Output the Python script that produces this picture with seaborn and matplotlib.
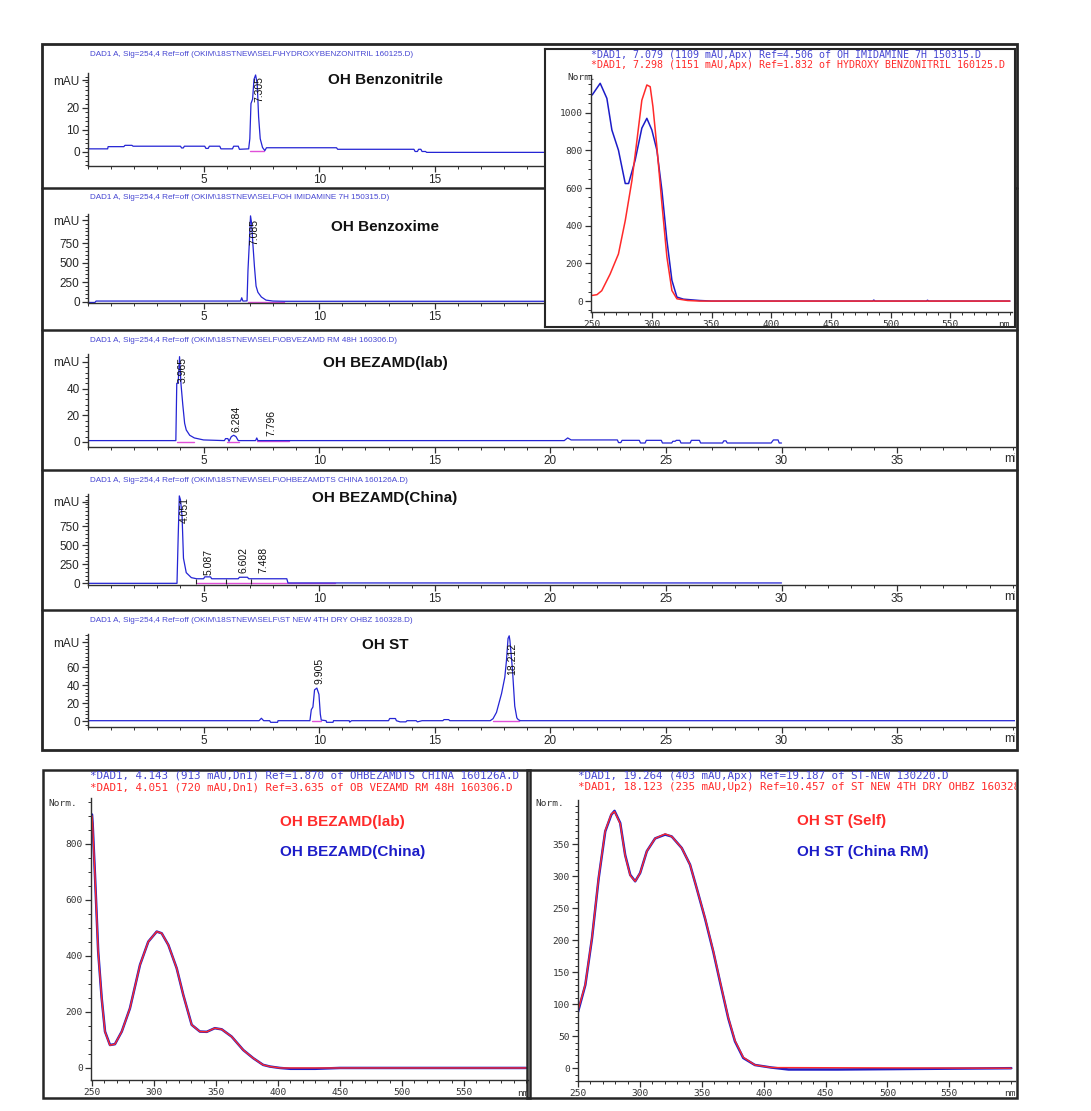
import matplotlib
matplotlib.use("Agg")
import matplotlib.pyplot as plt
import seaborn as sns
from matplotlib.patches import Rectangle
from matplotlib.lines import Line2D
from matplotlib.ticker import MultipleLocator
from matplotlib.transforms import Bbox, TransformedBbox

W, H = 1091, 1111

# ---------------- chromatograms: (time min, signal mAU) ----------------
benzonitrile_trace = [
    (0, 1.4), (0.85, 1.4), (0.87, 2.4), (1.55, 2.4), (1.6, 3.0), (1.9, 3.0), (1.95, 2.6),
    (4.0, 2.6), (4.05, 1.8), (4.12, 1.8), (4.17, 2.6), (5.05, 2.6), (5.1, 1.6), (5.2, 1.6),
    (5.25, 2.6), (5.7, 2.6), (5.75, 1.4), (6.25, 1.4), (6.3, 2.6), (6.5, 2.6), (6.55, 1.2),
    (6.95, 1.4), (7.0, 6), (7.05, 22), (7.12, 24), (7.18, 33), (7.25, 35), (7.32, 31),
    (7.38, 16), (7.45, 6), (7.55, 2.0), (7.65, 0.6), (7.72, 1.9), (10.75, 1.9), (10.8, 1.2),
    (14.1, 1.2), (14.15, 0.2), (14.25, 0.2), (14.3, 1.2), (14.4, 1.2), (14.45, 0.2),
    (14.6, 0.2), (14.65, -0.2), (20.0, -0.2),
]
benzonitrile_base = [[(7.0, 0.3), (7.62, 0.3)]]
benzonitrile_peaks = [(7.305, "7.305", 22.7)]

benzoxime_trace = [
    (0, -10), (0.3, -10), (0.35, 8), (6.6, 8), (6.65, 50), (6.7, 8), (6.75, 8), (6.88, 10),
    (6.92, 400), (6.97, 700), (7.03, 1100), (7.08, 1000), (7.13, 750), (7.2, 450), (7.27, 200),
    (7.35, 120), (7.5, 60), (7.7, 20), (8.0, 8), (8.5, 5), (20.0, 5),
]
benzoxime_base = [[(6.9, 2), (8.5, 2)]]
benzoxime_peaks = [(7.085, "7.085", 727)]

bezamd_lab_trace = [
    (0, 1), (3.8, 1), (3.84, 44), (3.9, 44), (3.96, 64), (4.02, 44), (4.1, 28), (4.18, 14),
    (4.25, 9), (4.4, 5), (4.6, 3), (5.0, 1.5), (5.9, 1), (5.95, 2.5), (6.05, 2.5), (6.1, 0.5),
    (6.2, 4), (6.3, 5), (6.4, 4), (6.5, 1), (7.25, 1), (7.3, 3), (7.35, 1), (20.6, 1),
    (20.75, 3), (20.9, 1.5), (22.9, 1.5), (22.95, -0.5), (23.05, -0.5), (23.1, 1.2),
    (23.85, 1.2), (23.9, -0.8), (24.1, -0.8), (24.15, 1.2), (24.8, 1.2), (24.85, -0.8),
    (25.25, -0.8), (25.3, 0.5), (25.4, 0.5), (25.45, 1.2), (25.6, 1.2), (25.65, -0.8),
    (26.05, -0.8), (26.1, 1.2), (26.45, 1.2), (26.5, -0.8), (27.45, -0.8), (27.5, 0.8),
    (27.6, 0.8), (27.65, -0.8), (29.55, -0.8), (29.65, 1.5), (29.85, 1.5), (29.9, -0.8),
    (30.0, -0.8),
]
bezamd_lab_base = [[(3.85, 0.3), (4.6, 0.3)], [(6.0, 0.3), (6.55, 0.3)], [(7.3, 0.6), (8.7, 0.6)]]
bezamd_lab_peaks = [(3.965, "3.965", 44), (6.284, "6.284", 7.5), (7.796, "7.796", 4.5)]

bezamd_china_trace = [
    (0, 0), (3.85, 0), (3.9, 600), (3.95, 1150), (4.0, 1100), (4.07, 880), (4.13, 330),
    (4.25, 140), (4.47, 75), (4.7, 60), (5.0, 60), (5.05, 85), (5.3, 85), (5.35, 60),
    (6.5, 60), (6.55, 80), (6.9, 80), (6.95, 60), (8.6, 60), (8.65, 5), (30.0, 5),
]
bezamd_china_base = [[(4.7, 0), (10.7, 0)]]
bezamd_china_events = [4.68, 5.98, 7.06]
bezamd_china_peaks = [(4.051, "4.051", 790), (5.087, "5.087", 109), (6.602, "6.602", 136),
                      (7.488, "7.488", 136)]

oh_st_trace = [
    (0, 0.8), (7.4, 0.8), (7.5, 3.5), (7.6, 0.8), (7.86, 0.8), (7.9, -1), (8.2, -1), (8.22, 0.8),
    (9.6, 0.8), (9.66, 13), (9.73, 16), (9.8, 35), (9.9, 37), (9.99, 30), (10.05, 8),
    (10.09, 1.5), (10.3, 0.8), (10.32, -1), (10.6, -1), (10.62, 0.8), (11.3, 0.8), (11.32, -0.8),
    (11.4, 0.8), (13.0, 0.8), (13.05, 3.2), (13.3, 3.2), (13.34, 0.8), (13.5, -0.5),
    (13.75, -0.5), (13.8, 0.8), (14.2, 0.8), (14.25, -0.5), (14.45, 0.8), (15.35, 0.8),
    (15.4, 2), (15.6, 2), (15.65, 0.8), (17.4, 0.8), (17.52, 3), (17.67, 10), (17.89, 31),
    (18.03, 49), (18.1, 67), (18.17, 92), (18.22, 95), (18.25, 90), (18.36, 58), (18.46, 17),
    (18.55, 4), (18.61, 2), (18.7, 0.8), (40.2, 0.8),
]
oh_st_base = [[(9.7, 0.3), (10.1, 0.3)], [(17.5, 0.3), (18.65, 0.3)]]
oh_st_peaks = [(9.905, "9.905", 42), (18.212, "18.212", 51)]

chrom_headers = [
    r"DAD1 A, Sig=254,4 Ref=off (OKIM\18STNEW\SELF\HYDROXYBENZONITRIL 160125.D)",
    r"DAD1 A, Sig=254,4 Ref=off (OKIM\18STNEW\SELF\OH IMIDAMINE 7H 150315.D)",
    r"DAD1 A, Sig=254,4 Ref=off (OKIM\18STNEW\SELF\OBVEZAMD RM 48H 160306.D)",
    r"DAD1 A, Sig=254,4 Ref=off (OKIM\18STNEW\SELF\OHBEZAMDTS CHINA 160126A.D)",
    r"DAD1 A, Sig=254,4 Ref=off (OKIM\18STNEW\SELF\ST NEW 4TH DRY OHBZ 160328.D)",
]
chrom_titles = ["OH Benzonitrile", "OH Benzoxime", "OH BEZAMD(lab)", "OH BEZAMD(China)", "OH ST"]
time_ticks = [5, 10, 15, 20, 25, 30, 35]

# ---------------- UV spectra: (wavelength nm, Norm.) ----------------
imidamine_spec = [
    (250, 1094), (256.7, 1156), (262.3, 1076), (266.5, 908), (272, 801), (277.7, 624),
    (280.5, 624), (286, 748), (291.6, 918), (295.8, 970), (300, 908), (304.2, 801),
    (308.4, 589), (312.6, 323), (316.8, 110), (321, 21), (326.5, 10), (340, 3), (350, 0),
    (485, 0), (486, 5), (487, 0), (530, 0), (531, 4), (532, 0), (600, 0),
]
benzonitrile_spec = [
    (250, 30), (254, 34), (258, 55), (265, 143), (272, 250), (277.7, 427), (283.3, 640),
    (287.5, 853), (291.6, 1066), (295.8, 1147), (298.6, 1138), (300.9, 1032), (304.2, 819),
    (308.4, 518), (312.6, 234), (316.8, 56), (321, 12), (330, 3), (340, 0), (600, 0),
]
bezamd_china_spec = [
    (250, 905), (250.5, 874), (252.4, 689), (255, 415), (257.8, 250), (260.5, 130),
    (264.5, 82), (268.5, 85), (274, 130), (280.6, 213), (288.7, 368), (295.4, 451),
    (302.2, 487), (306.2, 481), (311.6, 439), (318.3, 356), (323.6, 261), (330.4, 154),
    (337, 130), (342.5, 129), (349, 142), (354.6, 138), (362.6, 112), (372, 64), (380, 35),
    (388, 11), (393.5, 5), (401.6, 0), (410, -3), (430, -3), (450, 0), (600, 0),
]
bezamd_lab_spec = [
    (250, 900), (250.5, 870), (252.4, 686), (255, 413), (257.8, 249), (260.5, 129),
    (264.5, 81), (268.5, 85), (274, 130), (280.6, 213), (288.7, 368), (295.4, 451),
    (302.2, 487), (306.2, 481), (311.6, 439), (318.3, 356), (323.6, 261), (330.4, 154),
    (337, 130), (342.5, 129), (349, 142), (354.6, 138), (362.6, 112), (372, 64), (380, 35),
    (388, 11), (393.5, 5), (401.6, 0), (600, 0),
]
st_china_spec = [
    (250, 88), (255.9, 130), (261.3, 203), (266.7, 297), (272, 370), (276.9, 396),
    (279.5, 402), (284.1, 383), (288.1, 333), (292.2, 302), (296.2, 292), (300.2, 305),
    (305.6, 339), (312.3, 359), (320.4, 365), (325.7, 362), (333.8, 344), (340.5, 318),
    (345.9, 281), (352.6, 234), (359.3, 182), (364.7, 135), (371.4, 78), (376.8, 42),
    (383.5, 16), (392.9, 5), (406.3, 1), (420, -2), (460, -2), (600, 0),
]
st_self_spec = [
    (250, 90), (255.9, 131), (261.3, 204), (266.7, 298), (272, 371), (276.9, 397),
    (279.5, 401), (284.1, 382), (288.1, 332), (292.2, 301), (296.2, 292), (300.2, 305),
    (305.6, 339), (312.3, 359), (320.4, 366), (325.7, 362), (333.8, 344), (340.5, 318),
    (345.9, 281), (352.6, 235), (359.3, 183), (364.7, 136), (371.4, 79), (376.8, 43),
    (383.5, 17), (392.9, 5), (406.3, 1), (600, 0),
]
nm_ticks = [250, 300, 350, 400, 450, 500, 550]

TRACE = "#2424d4"
PINK = "#e050d8"
RED = "#ff2a2a"
BLUE = "#1c1cc8"
HEAD_BLUE = "#4646d2"
FRAME = "#262626"

sns.set_theme(style="ticks")
plt.rcParams["font.family"] = ["Liberation Sans", "DejaVu Sans"]
NARROW = ["Liberation Sans Narrow", "Liberation Sans", "DejaVu Sans"]
MONO = ["DejaVu Sans Mono"]

fig = plt.figure(figsize=(W / 100, H / 100), dpi=100)
fig.patch.set_facecolor("white")


def px_rect(x0, y0, x1, y1):
    return [x0 / W, 1 - y1 / H, (x1 - x0) / W, (y1 - y0) / H]


def ftext(x, y, s, clip=None, **kw):
    t = fig.text(x / W, 1 - y / H, s, **kw)
    if clip is not None:
        x0, y0, x1, y1 = clip
        box = Bbox.from_extents(x0 / W, 1 - y1 / H, x1 / W, 1 - y0 / H)
        t.set_clip_box(TransformedBbox(box, fig.transFigure))
        t.set_clip_on(True)
    return t


def fline(x0, y0, x1, y1, lw=1.6, zorder=2):
    fig.add_artist(Line2D([x0 / W, x1 / W], [1 - y0 / H, 1 - y1 / H],
                          transform=fig.transFigure, color=FRAME, lw=lw, zorder=zorder))


def fbox(x0, y0, x1, y1, lw=1.8, zorder=2):
    fig.add_artist(Rectangle((x0 / W, 1 - y1 / H), (x1 - x0) / W, (y1 - y0) / H,
                             transform=fig.transFigure, fill=False, ec=FRAME, lw=lw,
                             zorder=zorder))


def draw_series(ax, pairs, color, lw):
    xs = [p[0] for p in pairs]
    ys = [p[1] for p in pairs]
    sns.lineplot(x=xs, y=ys, ax=ax, color=color, lw=lw, estimator=None, sort=False)


def style_axes(ax):
    ax.set_facecolor("none")
    ax.spines[["top", "right"]].set_visible(False)
    for s in ("left", "bottom"):
        ax.spines[s].set_color("#303030")
        ax.spines[s].set_linewidth(1.0)
    ax.set_xlabel("")
    ax.set_ylabel("")


# ---------------- top block: five chromatograms ----------------
panels = [
    dict(trace=benzonitrile_trace, base=benzonitrile_base, peaks=benzonitrile_peaks,
         axis=166, top=73, ylim=(-6.4, 35.9), yticks=[0, 10, 20], mau=32.7, minor=2,
         head_y=55, title_y=80),
    dict(trace=benzoxime_trace, base=benzoxime_base, peaks=benzoxime_peaks,
         axis=303, top=214, ylim=(-17, 1124), yticks=[0, 250, 500, 750], mau=1047, minor=50,
         head_y=198, title_y=227),
    dict(trace=bezamd_lab_trace, base=bezamd_lab_base, peaks=bezamd_lab_peaks,
         axis=447, top=354, ylim=(-3.8, 66), yticks=[0, 20, 40], mau=60, minor=4,
         head_y=340, title_y=363),
    dict(trace=bezamd_china_trace, base=bezamd_china_base, peaks=bezamd_china_peaks,
         axis=585, top=494, ylim=(-22, 1175), yticks=[0, 250, 500, 750], mau=1074, minor=50,
         head_y=480, title_y=498),
    dict(trace=oh_st_trace, base=oh_st_base, peaks=oh_st_peaks,
         axis=727, top=634, ylim=(-6.2, 97), yticks=[0, 20, 40, 60], mau=87.6, minor=4,
         head_y=621, title_y=645),
]

for i, cfg in enumerate(panels):
    ax = fig.add_axes(px_rect(88, cfg["top"], 1015, cfg["axis"]))
    for seg in cfg["base"]:
        draw_series(ax, seg, PINK, 1.0)
    draw_series(ax, cfg["trace"], TRACE, 0.9)
    if i == 3:
        ax.vlines(bezamd_china_events, -15, 60, color="#202020", lw=0.8)
    ax.set_xlim(0, 40.1)
    ax.set_ylim(*cfg["ylim"])
    style_axes(ax)
    # the two upper panels are partly covered by the spectrum inset
    shown = time_ticks if i >= 2 else [v for v in time_ticks if v < 19]
    ax.set_xticks(shown)
    ax.set_xticklabels([str(v) for v in shown])
    ax.xaxis.set_minor_locator(MultipleLocator(1))
    ax.set_yticks(cfg["yticks"] + [cfg["mau"]])
    ax.set_yticklabels([str(v) for v in cfg["yticks"]] + ["mAU"])
    ax.yaxis.set_minor_locator(MultipleLocator(cfg["minor"]))
    ax.tick_params(which="major", direction="out", length=4, width=0.9, color="#303030",
                   labelsize=8.5, pad=2, labelfontfamily=NARROW)
    ax.tick_params(which="minor", direction="out", length=2, width=0.7, color="#303030")
    for t, label, ly in cfg["peaks"]:
        ax.text(t + 0.12, ly, label, rotation=90, ha="center", va="bottom", fontsize=7.5,
                family=NARROW, color="#101010", clip_on=False)
    ftext(90, cfg["head_y"], chrom_headers[i], fontsize=5.9, family=NARROW, color=HEAD_BLUE,
          va="center")
    ftext(385, cfg["title_y"], chrom_titles[i], fontsize=11, fontweight="bold", ha="center",
          va="center", color="#111111")
    if i >= 2:
        ftext(1004, cfg["axis"] + 12, "min", clip=(0, 0, 1015, H), fontsize=8.5,
              family=NARROW, va="center")

for y in (188, 330, 470, 610):
    fline(42, y, 1017, y, lw=1.8)
fbox(42, 44, 1017, 750, lw=2.0)

# ---------------- top-right inset: UV spectra ----------------
ax_bg = fig.add_axes(px_rect(545, 49, 1015, 327), zorder=5)
ax_bg.set_xticks([])
ax_bg.set_yticks([])
ax_bg.set_facecolor("white")
for s in ax_bg.spines.values():
    s.set_color(FRAME)
    s.set_linewidth(1.5)


def spectrum_axes(rect, xlim, ylim, yticks, yminor, zorder=0):
    ax = fig.add_axes(rect, zorder=zorder)
    ax.set_xlim(*xlim)
    ax.set_ylim(*ylim)
    style_axes(ax)
    ax.set_xticks(nm_ticks)
    ax.set_xticklabels([str(v) for v in nm_ticks])
    ax.xaxis.set_minor_locator(MultipleLocator(10))
    ax.set_yticks(yticks)
    ax.set_yticklabels([str(v) for v in yticks])
    ax.yaxis.set_minor_locator(MultipleLocator(yminor))
    ax.tick_params(which="major", direction="out", length=4, width=0.9, color="#303030",
                   labelsize=6.8, pad=2, labelfontfamily=MONO, labelcolor="#333333")
    ax.tick_params(which="minor", direction="out", length=2, width=0.7, color="#303030")
    return ax


ax_in = spectrum_axes(px_rect(591, 75, 1012, 312), (249, 601.8), (-58, 1200),
                      [0, 200, 400, 600, 800, 1000], 50, zorder=6)
draw_series(ax_in, imidamine_spec, BLUE, 1.1)
draw_series(ax_in, benzonitrile_spec, RED, 1.1)
ftext(591, 55, "*DAD1, 7.079 (1109 mAU,Apx) Ref=4.506 of OH IMIDAMINE 7H 150315.D",
      clip=(545, 49, 1015, 327), fontsize=7.2, family=MONO, color=HEAD_BLUE, va="center",
      zorder=7)
ftext(591, 65, "*DAD1, 7.298 (1151 mAU,Apx) Ref=1.832 of HYDROXY BENZONITRIL 160125.D",
      clip=(545, 49, 1015, 327), fontsize=7.2, family=MONO, color=RED, va="center", zorder=7)
ftext(567, 78, "Norm.", fontsize=6.8, family=MONO, va="center", color="#333333", zorder=7)
ftext(998, 324, "nm", fontsize=6.8, family=MONO, va="center", color="#333333", zorder=7)

# ---------------- bottom-left: OH BEZAMD spectra ----------------
fbox(43, 770, 530, 1098, lw=1.8)
ax_bl = spectrum_axes(px_rect(91, 798, 528, 1080), (249.2, 601.6), (-43, 964),
                      [0, 200, 400, 600, 800], 50)
draw_series(ax_bl, bezamd_china_spec, BLUE, 1.8)
draw_series(ax_bl, bezamd_lab_spec, RED, 1.0)
ftext(90, 776, "*DAD1, 4.143 (913 mAU,Dn1) Ref=1.870 of OHBEZAMDTS CHINA 160126A.D",
      fontsize=7.8, family=MONO, color=HEAD_BLUE, va="center")
ftext(90, 787, "*DAD1, 4.051 (720 mAU,Dn1) Ref=3.635 of OB VEZAMD RM 48H 160306.D",
      fontsize=7.8, family=MONO, color=RED, va="center")
ftext(48, 804, "Norm.", fontsize=6.8, family=MONO, va="center", color="#333333")
ftext(517, 1093, "nm", clip=(0, 0, 528, H), fontsize=6.8, family=MONO, va="center",
      color="#333333")
ftext(280, 822, "OH BEZAMD(lab)", fontsize=11, fontweight="bold", color=RED, va="center")
ftext(280, 852, "OH BEZAMD(China)", fontsize=11, fontweight="bold", color=BLUE, va="center")

# ---------------- bottom-right: OH ST spectra ----------------
fbox(527, 770, 1017, 1098, lw=1.8)
ax_br = spectrum_axes(px_rect(578, 800, 1015, 1081), (250, 603), (-20, 419),
                      [0, 50, 100, 150, 200, 250, 300, 350], 10)
draw_series(ax_br, st_china_spec, BLUE, 1.8)
draw_series(ax_br, st_self_spec, RED, 1.0)
ftext(578, 776, "*DAD1, 19.264 (403 mAU,Apx) Ref=19.187 of ST-NEW 130220.D",
      fontsize=7.8, family=MONO, color=HEAD_BLUE, va="center")
ftext(578, 787, "*DAD1, 18.123 (235 mAU,Up2) Ref=10.457 of ST NEW 4TH DRY OHBZ 160328.D",
      clip=(527, 770, 1016, 1098), fontsize=7.8, family=MONO, color=RED, va="center")
ftext(535, 804, "Norm.", fontsize=6.8, family=MONO, va="center", color="#333333")
ftext(1004, 1093, "nm", clip=(0, 0, 1015, H), fontsize=6.8, family=MONO, va="center",
      color="#333333")
ftext(797, 821, "OH ST (Self)", fontsize=11, fontweight="bold", color=RED, va="center")
ftext(797, 852, "OH ST (China RM)", fontsize=11, fontweight="bold", color=BLUE, va="center")

fig.savefig("out.png", dpi=100, facecolor="white")
